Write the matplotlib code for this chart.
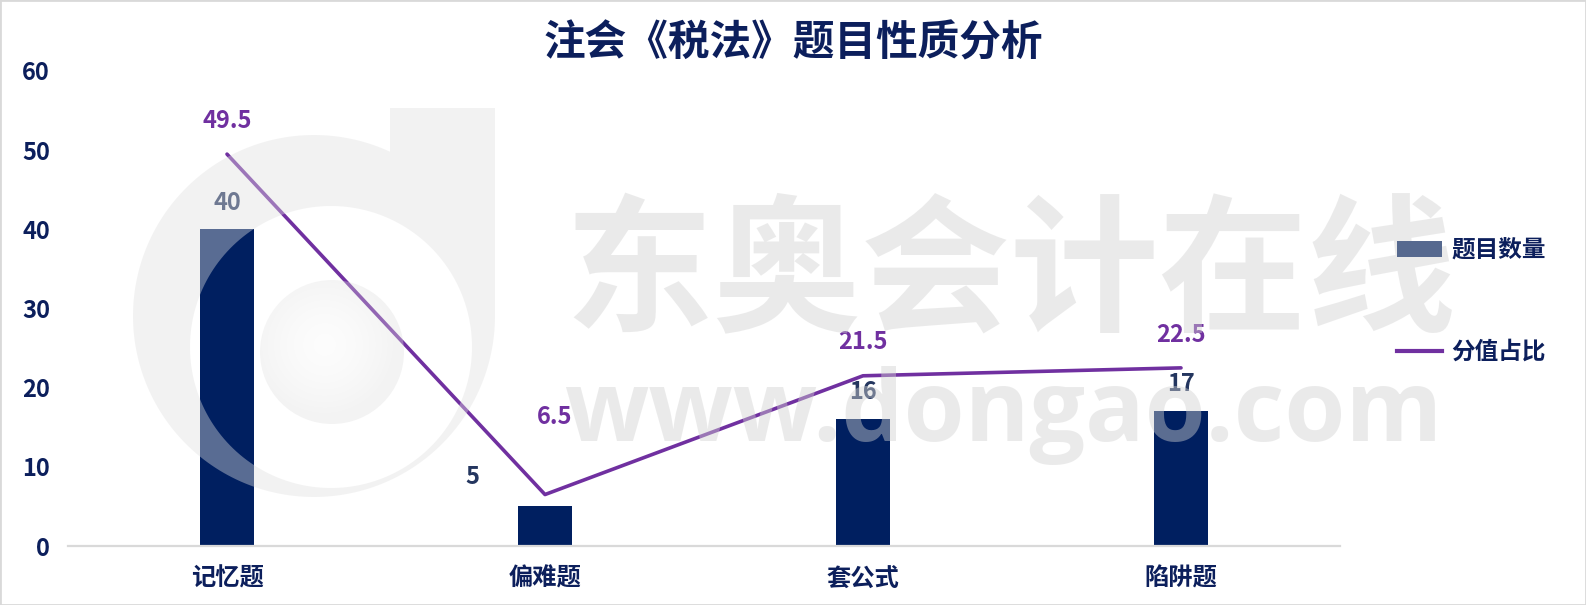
import numpy as np
import matplotlib
matplotlib.use('Agg')
import matplotlib.pyplot as plt
from matplotlib.patches import Patch, PathPatch, Circle, Rectangle
from matplotlib.lines import Line2D
from matplotlib.path import Path

plt.rcParams['font.family'] = ['Noto Sans CJK SC', 'DejaVu Sans']

# data
categories = ['记忆题', '偏难题', '套公式', '陷阱题']
counts = [40, 5, 16, 17]          # 题目数量
shares = [49.5, 6.5, 21.5, 22.5]  # 分值占比
yticks = [0, 10, 20, 30, 40, 50, 60]

navy = '#0c1f5c'
bar_c = '#001f60'
purple = '#7030a0'
lab_c = '#24365f'

fig = plt.figure(figsize=(15.86, 6.05), dpi=100)
ax = fig.add_axes([68 / 1586, 1 - 546 / 605, 1272 / 1586, 475 / 605])

x = np.arange(len(categories))
ax.bar(x, counts, width=0.167, color=bar_c, zorder=2)
ax.plot(x, shares, color=purple, lw=2.6, solid_capstyle='round', zorder=3)

ax.set_xlim(-0.5, 3.5)
ax.set_ylim(0, 60)
ax.set_yticks(yticks)
ax.set_xticks(x)
ax.set_xticklabels(categories)
ax.tick_params(length=0)
ax.tick_params(axis='y', pad=13, labelsize=17, labelcolor=navy)
ax.tick_params(axis='x', pad=15, labelsize=17.5, labelcolor=navy)
for t in ax.get_xticklabels() + ax.get_yticklabels():
    t.set_fontweight('bold')
for s in ['left', 'right', 'top']:
    ax.spines[s].set_visible(False)
ax.spines['bottom'].set_color('#d9d9d9')
ax.spines['bottom'].set_linewidth(1.6)
ax.patch.set_alpha(0)

# value labels
bar_off = [(0, 19), (-52, 21), (0, 20), (0, 20)]
for i, v in enumerate(counts):
    ax.annotate(str(v), (x[i], v), xytext=bar_off[i], textcoords='offset points',
                ha='center', va='center', fontsize=17, fontweight='bold', color=lab_c)
line_off = [(0, 24), (7, 56), (0, 24), (0, 24)]
for i, v in enumerate(shares):
    ax.annotate(f'{v:g}', (x[i], v), xytext=line_off[i], textcoords='offset points',
                ha='center', va='center', fontsize=17, fontweight='bold', color=purple)

fig.suptitle('注会《税法》题目性质分析', x=0.5, y=1 - 43 / 605, va='center',
             fontsize=30, fontweight='bold', color=navy)

# watermark overlay (pixel coordinates)
wm = fig.add_axes([0, 0, 1, 1], zorder=1)
wm.axis('off')
wm.patch.set_alpha(0)

# "d" logo
cx, cy, R = 314, 316, 181
t0 = -np.arccos((390 - cx) / R)
t = np.linspace(t0, -2 * np.pi, 200)
outer = np.column_stack([cx + R * np.cos(t), cy + R * np.sin(t)])
outer = np.vstack([outer, [[cx + R, cy], [cx + R, 108], [390, 108]]])
ic, ir = (331, 347), 141
ti = np.linspace(0, -2 * np.pi, 200)
inner = np.column_stack([ic[0] + ir * np.cos(ti), ic[1] + ir * np.sin(ti)])
inner = inner[::-1]
verts = np.vstack([outer, outer[:1], inner, inner[:1]])
codes = ([Path.MOVETO] + [Path.LINETO] * (len(outer) - 1) + [Path.CLOSEPOLY]
         + [Path.MOVETO] + [Path.LINETO] * (len(inner) - 1) + [Path.CLOSEPOLY])
wm.add_patch(PathPatch(Path(verts, codes), facecolor=(0.88, 0.88, 0.88), alpha=0.4, lw=0))

# soft disc
gx, gy = np.meshgrid(np.linspace(-1, 1, 200), np.linspace(-1, 1, 200))
r = np.clip(np.hypot(gx + 0.1, gy + 0.1), 0, 1)
img = np.zeros((200, 200, 4))
img[..., :3] = 0.88
img[..., 3] = 0.08 + 0.3 * r ** 1.5
disc = Circle((332, 352), 72, transform=wm.transData)
im = wm.imshow(img, extent=(260, 404, 424, 280), interpolation='bilinear')
im.set_clip_path(disc)
wm.set_xlim(0, 1586)
wm.set_ylim(605, 0)
wm.set_aspect('auto')

wm.text(1010, 277, '东奥会计在线', ha='center', va='center', fontsize=107,
        fontweight='bold', color=(0.82, 0.82, 0.82), alpha=0.44)
wm.text(1003, 441, 'www.dongao.com', ha='center', va='baseline', fontsize=71,
        fontweight='bold', family=['Open Sans', 'DejaVu Sans'],
        color=(0.82, 0.82, 0.82), alpha=0.44)

# legend
handles = [Patch(facecolor='#56698f', edgecolor='none'),
           Line2D([], [], color=purple, lw=3)]
fig.legend(handles, ['题目数量', '分值占比'], loc='center left',
           bbox_to_anchor=(1397 / 1586, 1 - 301 / 605), frameon=False,
           borderpad=0, borderaxespad=0, handlelength=1.9, handleheight=0.7,
           handletextpad=0.4, labelspacing=3.3,
           prop={'size': 17, 'weight': 'bold'}, labelcolor=navy)

fig.patches.append(Rectangle((0, 0), 1, 1, transform=fig.transFigure, fill=False,
                             edgecolor='#d9d9d9', lw=2))

fig.savefig('out.png', dpi=100)
